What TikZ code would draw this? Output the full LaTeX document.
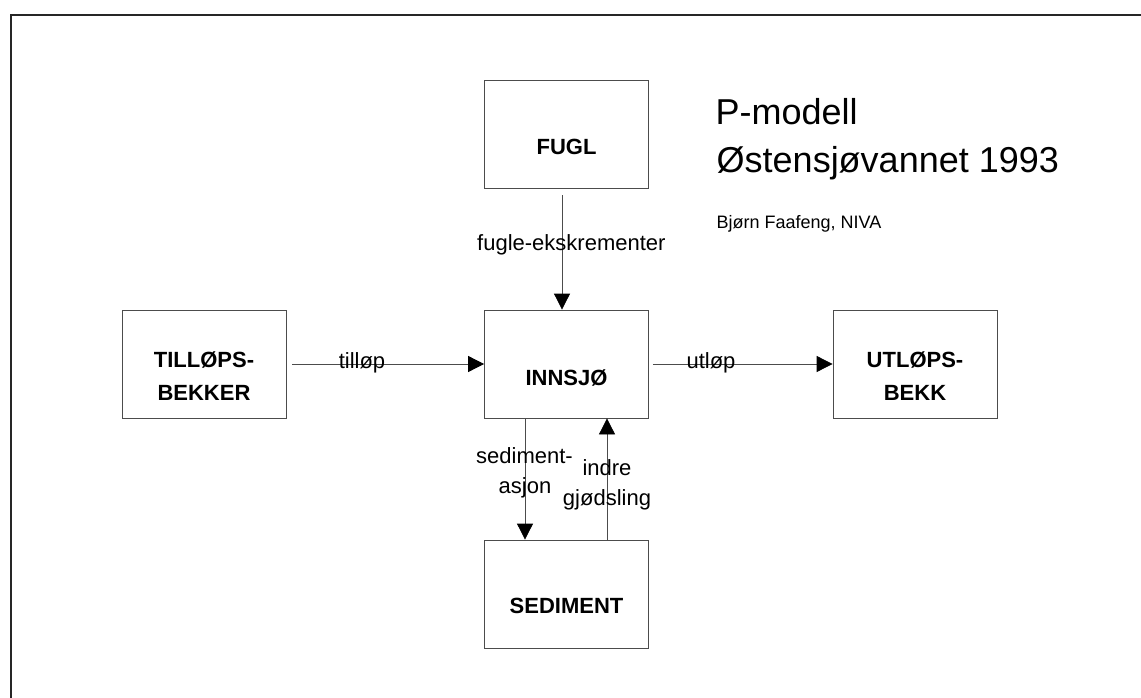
\documentclass[tikz,border=0pt]{standalone}
\usepackage{fontspec}
\setmainfont{Liberation Sans}
\usetikzlibrary{arrows.meta}
\begin{document}
\begin{tikzpicture}[x=1pt,y=-1pt,
  box/.style={draw=black!70, line width=0.8pt, minimum width=164pt, minimum height=108pt, inner sep=0pt},
  boxtext/.style={font=\fontsize{22}{33}\selectfont\bfseries, align=center, inner sep=0pt, anchor=base},
  lbl/.style={font=\fontsize{22}{30}\selectfont, align=center, inner sep=0pt, anchor=base},
  flow/.style={draw=black!70, line width=0.8pt, -{Triangle[length=16pt,width=16pt,color=black,fill=black]}},
  title/.style={font=\fontsize{36}{43}\selectfont, inner sep=0pt, anchor=base west}
]
\useasboundingbox (0,0) rectangle (1141,698);
% outer frame (top and left edges)
\draw[black!85, line width=2pt] (10.5,698) -- (10.5,15) -- (1141,15);

% boxes
\node[box] (fugl) at (566.5,134) {};
\node[box] (innsjo) at (566.5,364) {};
\node[box] (tillop) at (204,364) {};
\node[box] (utlop) at (915,364) {};
\node[box] (sediment) at (566.5,594) {};

% box texts
\node[boxtext] (fuglT) at (566.5,155) {FUGL};
\node[boxtext] (innsjoT) at (566.5,385) {INNSJØ};
\node[boxtext] (sedimentT) at (566.5,613) {SEDIMENT};
\node[boxtext] (tillopT) at (204,400) {TILLØPS-\\BEKKER};
\node[boxtext] (utlopT) at (915,400) {UTLØPS-\\BEKK};

% connectors
\draw[flow] ([xshift=6pt]tillop.east) -- (innsjo.west);
\draw[flow] ([xshift=4pt]innsjo.east) -- (utlop.west);
\draw[flow] ([xshift=-4.5pt,yshift=-7pt]fugl.south) -- ([xshift=-4.5pt]innsjo.north);
\draw[flow] ([xshift=-41.5pt]innsjo.south) -- ([xshift=-41.5pt]sediment.north);
\draw[flow] ([xshift=40.5pt]sediment.north) -- ([xshift=40.5pt]innsjo.south);

% connector labels
\node[lbl] (lTillop) at (362,368) {tilløp};
\node[lbl] (lUtlop) at (711,368) {utløp};
\node[lbl, anchor=base west] (lFugl) at (477,250) {fugle-ekskrementer};
\node[lbl] (lSed1) at (524.5,463) {sediment-};
\node[lbl] (lSed2) at (525,493) {asjon};
\node[lbl] (lInd1) at (607,475) {indre};
\node[lbl] (lInd2) at (607,505) {gjødsling};

% title
\node[title] (t1) at (715.5,125) {P-modell};
\node[title] (t2) at (716.5,172) {Østensjøvannet 1993};
\node[title, font=\fontsize{18}{22}\selectfont] (t3) at (716.5,229) {Bjørn Faafeng, NIVA};
\end{tikzpicture}
\end{document}
